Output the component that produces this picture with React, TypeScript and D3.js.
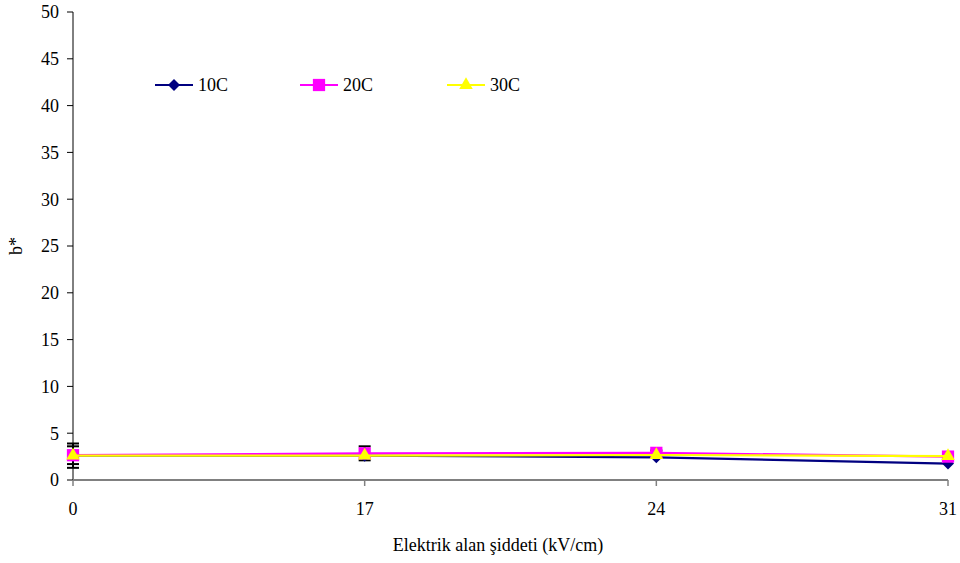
import React from "react";
import * as d3 from "d3";

const categories = ["0", "17", "24", "31"];
const seriesNames = ["10C", "20C", "30C"];
const values10C = [2.6, 2.6, 2.42, 1.75];
const values20C = [2.65, 2.85, 2.9, 2.5];
const values30C = [2.6, 2.6, 2.67, 2.55];
const errors10C = [1.3, 0, 0, 0];
const errors20C = [0.95, 0.75, 0.25, 0];
const yTicks = [0, 5, 10, 15, 20, 25, 30, 35, 40, 45, 50];

const colors = ["#000080", "#FF00FF", "#FFFF00"];

// square-ish diamond used for the 10C series
const diamond: d3.SymbolType = {
  draw(ctx, size) {
    const r = Math.sqrt(size / 2);
    ctx.moveTo(0, -r);
    ctx.lineTo(r, 0);
    ctx.lineTo(0, r);
    ctx.lineTo(-r, 0);
    ctx.closePath();
  },
};
const symbols = [diamond, d3.symbolSquare, d3.symbolTriangle];
const symbolSizes = [72, 150, 80];

const W = 960;
const H = 563;
const left = 73;
const right = 948;
const top = 12;
const bottom = 480;

export default function App() {
  const x = d3.scalePoint<string>().domain(categories).range([left, right]);
  const y = d3.scaleLinear().domain([0, 50]).range([bottom, top]);
  const allSeries = [values10C, values20C, values30C];
  const allErrors = [errors10C, errors20C, null];
  const line = d3
    .line<number>()
    .x((_, i) => x(categories[i]) as number)
    .y((d) => y(d));
  const font = "Liberation Serif, Times New Roman, serif";
  const legendX = [155, 300, 447];
  const legendY = 85;

  return (
    <svg
      width={W}
      height={H}
      style={{ position: "absolute", left: 0, top: 0, background: "#fff" }}
      fontFamily={font}
    >
      {/* y axis */}
      <line x1={left} x2={left} y1={top} y2={bottom} stroke="#000" strokeWidth={1} />
      {yTicks.map((t) => (
        <g key={t}>
          <line x1={left - 6} x2={left} y1={y(t)} y2={y(t)} stroke="#000" />
          <text x={left - 14} y={y(t)} dy="0.35em" textAnchor="end" fontSize={18}>
            {t}
          </text>
        </g>
      ))}
      {/* x axis */}
      <line x1={left} x2={right} y1={bottom} y2={bottom} stroke="#808080" strokeWidth={2} />
      {categories.map((c) => (
        <g key={c}>
          <line x1={x(c)} x2={x(c)} y1={bottom} y2={bottom + 6} stroke="#808080" strokeWidth={1.5} />
          <text x={x(c)} y={bottom + 35} textAnchor="middle" fontSize={18}>
            {c}
          </text>
        </g>
      ))}
      <text x={498} y={551} textAnchor="middle" fontSize={18}>
        Elektrik alan şiddeti (kV/cm)
      </text>
      <text
        transform={`translate(22,${(top + bottom) / 2}) rotate(-90)`}
        textAnchor="middle"
        fontSize={18}
      >
        b*
      </text>

      {/* error bars */}
      {allErrors.map((errs, s) =>
        errs
          ? errs.map((e, i) => {
              if (!e) return null;
              const cx = x(categories[i]) as number;
              const v = allSeries[s][i];
              return (
                <g key={`e${s}-${i}`} stroke="#000" strokeWidth={2}>
                  <line x1={cx} x2={cx} y1={y(v + e)} y2={y(v - e)} />
                  <line x1={cx - 6} x2={cx + 6} y1={y(v + e)} y2={y(v + e)} />
                  <line x1={cx - 6} x2={cx + 6} y1={y(v - e)} y2={y(v - e)} />
                </g>
              );
            })
          : null
      )}

      {/* series */}
      {allSeries.map((vals, s) => (
        <g key={seriesNames[s]}>
          <path d={line(vals) ?? ""} fill="none" stroke={colors[s]} strokeWidth={2.2} />
          {vals.map((v, i) => (
            <path
              key={i}
              d={d3.symbol().type(symbols[s]).size(symbolSizes[s])() ?? ""}
              transform={`translate(${x(categories[i])},${y(v)})`}
              fill={colors[s]}
            />
          ))}
        </g>
      ))}

      {/* legend */}
      {seriesNames.map((name, s) => (
        <g key={name} transform={`translate(${legendX[s]},${legendY})`}>
          <line x1={0} x2={38} y1={0} y2={0} stroke={colors[s]} strokeWidth={2} />
          <path
            d={d3.symbol().type(symbols[s]).size(symbolSizes[s])() ?? ""}
            transform="translate(19,0)"
            fill={colors[s]}
          />
          <text x={43} y={0} dy="0.35em" fontSize={18}>
            {name}
          </text>
        </g>
      ))}
    </svg>
  );
}
